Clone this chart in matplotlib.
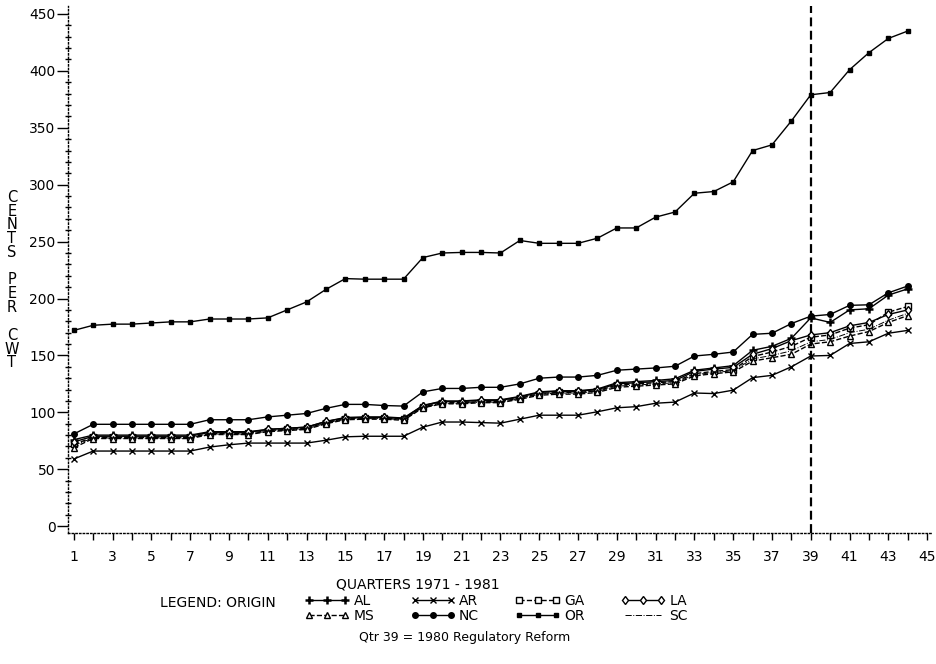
import matplotlib
matplotlib.use("Agg")
import matplotlib.pyplot as plt
from matplotlib.ticker import MultipleLocator

# quarters 1971 - 1981, cents per cwt by origin state
quarters = list(range(1, 45))

OR = [172, 176.5, 177.5, 177.5, 178.5, 179.5, 179.5, 182, 182, 182, 183, 190, 197, 208,
      217.5, 217, 217, 217, 236, 240, 240.5, 240.5, 240, 251, 248.5, 248.5, 248.5, 253,
      262, 262, 271.5, 276, 292.5, 294, 302.5, 330, 335, 356, 379, 381, 401, 416, 428.5, 435]
NC = [81, 89.5, 89.5, 89.5, 89.5, 89.5, 89.5, 93.5, 93.5, 93.5, 96, 97.5, 99, 103.5,
      107, 107, 106, 105.5, 118, 121, 121, 122, 122, 125, 130, 131, 131, 132.5,
      137, 138, 139, 140.5, 149.5, 151, 153, 168.5, 169.5, 178, 184.5, 186, 194, 194.5, 205, 211]
AL = [76, 80, 80, 80, 80, 80, 80, 83, 83, 83, 85, 86, 87, 92,
      95.5, 96, 96, 95, 106, 110, 110, 111, 111, 114, 118, 119, 119, 120.5,
      126, 127, 128, 129.5, 137, 139, 141, 154.5, 158, 165, 183, 179, 190, 191, 203, 208.5]
GA = [72, 78, 78, 78, 78, 78, 78, 81.5, 81.5, 81.5, 84, 85, 86, 91,
      94.5, 95, 95, 94, 105, 108.5, 108.5, 109.5, 109.5, 112.5, 116.5, 117.5, 117.5, 119,
      124, 125, 126, 127, 134, 136, 137.5, 149, 153, 158, 166, 168, 174, 177, 188, 193]
LA = [74, 79, 79, 79, 79, 79, 79, 82.5, 82.5, 82.5, 85, 86, 87, 92,
      95, 95.5, 95.5, 94.5, 106, 109.5, 109.5, 110.5, 110.5, 113.5, 117.5, 118.5, 118.5, 120,
      125, 126, 127, 128, 136, 138, 139.5, 151, 156, 163, 168, 170, 176, 179, 186, 190]
MS = [69, 77, 77, 77, 77, 77, 77, 80.5, 80.5, 80.5, 83, 84, 85, 90,
      93.5, 94, 94, 93, 104, 107.5, 107.5, 108.5, 108.5, 111.5, 115, 116, 116, 117.5,
      122, 123, 124, 125, 132, 134, 135.5, 145, 148, 151, 160, 162, 167, 171, 179, 185]
SC = [71, 77.5, 77.5, 77.5, 77.5, 77.5, 77.5, 81, 81, 81, 83.5, 84.5, 85.5, 90.5,
      94, 94.5, 94.5, 93.5, 104.5, 108, 108, 109, 109, 112, 116, 117, 117, 118.5,
      123, 124, 125, 126, 133, 135, 136.5, 147, 150, 154, 162, 164, 170, 173, 181, 187]
AR = [59, 66, 66, 66, 66, 66, 66, 69.5, 71.5, 73, 73, 73, 73, 75.5,
      78.5, 79, 79, 79, 87, 91.5, 91.5, 91, 90.5, 94, 97.5, 97.5, 97.5, 100.5,
      104, 105, 108, 109, 117, 116.5, 119.5, 130.5, 132.5, 140, 149.5, 150, 160.5, 162, 169.5, 172]

reform_qtr = 39

plt.rcParams['font.family'] = 'DejaVu Sans'

fig = plt.figure(figsize=(9.37, 6.64), dpi=100)
ax = fig.add_axes([68/937, 131/664, 863/937, 527/664])

k = dict(color='black', linewidth=1.0)
l_al, = ax.plot(quarters, AL, marker='+', markersize=6, markeredgewidth=1.8, **k)
l_ar, = ax.plot(quarters, AR, marker='x', markersize=5, markeredgewidth=1.0, **k)
l_ga, = ax.plot(quarters, GA, marker='s', markersize=4, markerfacecolor='white', linestyle='--', **k)
l_la, = ax.plot(quarters, LA, marker='d', markersize=4.5, markerfacecolor='white', **k)
l_ms, = ax.plot(quarters, MS, marker='^', markersize=4, markerfacecolor='white', linestyle='--', **k)
l_nc, = ax.plot(quarters, NC, marker='o', markersize=4, **k)
l_or, = ax.plot(quarters, OR, marker='s', markersize=3, **k)
l_sc, = ax.plot(quarters, SC, color='black', linewidth=0.7, linestyle='-.')

# regulatory reform marker
ax.axvline(reform_qtr, color='black', linestyle=(0, (4, 2)), linewidth=1.6)

ax.set_xlim(0.7, 45.2)
ax.set_ylim(-6, 457)
ax.xaxis.set_major_locator(MultipleLocator(2, offset=1))
ax.xaxis.set_minor_locator(MultipleLocator(1))
ax.yaxis.set_major_locator(MultipleLocator(50))
ax.yaxis.set_minor_locator(MultipleLocator(10))
ax.tick_params(axis='x', which='both', direction='out', length=5, width=1, labelsize=10, pad=7)
ax.tick_params(axis='y', which='major', direction='out', length=8, width=1, labelsize=10, pad=1)
ax.tick_params(axis='y', which='minor', direction='inout', length=5, width=1)

for s in ['top', 'right']:
    ax.spines[s].set_visible(False)
for s in ['left', 'bottom']:
    ax.spines[s].set_linestyle(':')
    ax.spines[s].set_linewidth(1.0)

# stacked y label
fig.text(12/937, 1 - 280/664, "C\nE\nN\nT\nS\n\nP\nE\nR\n\nC\nW\nT",
         ha='center', va='center', fontsize=10.5, linespacing=0.9)

fig.text(418/937, 1 - 585/664, "QUARTERS 1971 - 1981", ha='center', va='center', fontsize=10)
fig.text(160/937, 1 - 603/664, "LEGEND: ORIGIN", ha='left', va='center', fontsize=10)
fig.text(465/937, 1 - 638/664, "Qtr 39 = 1980 Regulatory Reform", ha='center', va='center', fontsize=9)

handles = [l_al, l_ms, l_ar, l_nc, l_ga, l_or, l_la, l_sc]
labels = ['AL', 'MS', 'AR', 'NC', 'GA', 'OR', 'LA', 'SC']
fig.legend(handles, labels, loc='upper left', bbox_to_anchor=(305/937, 1 - 594/664),
           ncol=4, frameon=False, handlelength=3.2, columnspacing=2.6, labelspacing=0.05,
           handletextpad=0.3, borderpad=0, borderaxespad=0, numpoints=3, fontsize=10)

fig.savefig("out.png", dpi=100)
